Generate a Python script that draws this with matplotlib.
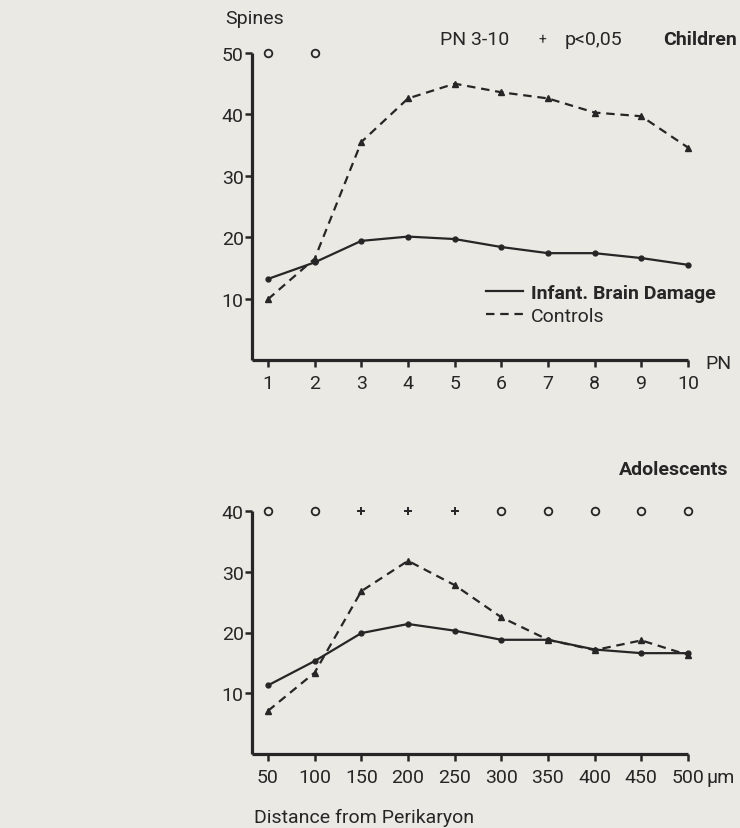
import matplotlib
matplotlib.use("Agg")
import matplotlib.pyplot as plt

plt.rcParams['font.family'] = ['Roboto', 'DejaVu Sans']

# ---------------- data ----------------
pn_days = [1, 2, 3, 4, 5, 6, 7, 8, 9, 10]
children_ibd = [13.2, 15.9, 19.4, 20.1, 19.7, 18.4, 17.4, 17.4, 16.6, 15.5]
children_ctrl = [9.9, 16.5, 35.5, 42.6, 45.0, 43.6, 42.6, 40.3, 39.7, 34.6]
children_sig = ['o', 'o', '', '', '', '', '', '', '', '']

distance_um = [50, 100, 150, 200, 250, 300, 350, 400, 450, 500]
adol_ibd = [11.3, 15.3, 19.9, 21.4, 20.3, 18.8, 18.8, 17.2, 16.6, 16.6]
adol_ctrl = [7.1, 13.4, 26.8, 31.8, 27.8, 22.5, 18.8, 17.1, 18.7, 16.3]
adol_sig = ['o', 'o', '+', '+', '+', 'o', 'o', 'o', 'o', 'o']

top_yticks = [10, 20, 30, 40, 50]
bot_yticks = [10, 20, 30, 40]
legend_labels = ['Infant. Brain Damage', 'Controls']

# ---------------- style ----------------
BG = '#ebe9e4'
INK = '#262626'
W, H = 740, 829
FS = 14

fig = plt.figure(figsize=(W / 100, H / 100), dpi=100, facecolor=BG)


def fx(px):
    return px / W


def fy(py):
    return 1 - py / H


def style_axes(ax):
    ax.set_facecolor(BG)
    for s in ['top', 'right']:
        ax.spines[s].set_visible(False)
    for s in ['left', 'bottom']:
        ax.spines[s].set_linewidth(2.3)
        ax.spines[s].set_color(INK)
        ax.spines[s].set_capstyle('butt')
    ax.tick_params(axis='both', direction='out', width=1.8, length=5,
                   color=INK, labelcolor=INK, labelsize=FS)
    ax.tick_params(axis='y', pad=1)
    ax.tick_params(axis='x', pad=5)


dash = (0, (3.8, 2.6))


def draw_sig(ax, xs, marks, yv):
    for x, s in zip(xs, marks):
        if s == 'o':
            ax.plot(x, yv, marker='o', ms=5.5, mfc='none', mec=INK, mew=1.3, clip_on=False)
        elif s == '+':
            ax.plot(x, yv, marker='+', ms=5.5, mec=INK, mew=1.4, clip_on=False)


# ---------------- top panel (Children) ----------------
ax1 = fig.add_axes([fx(252), fy(361), fx(688) - fx(252), fy(54) - fy(361)])
style_axes(ax1)
ax1.set_xlim(0.657, 10)
ax1.set_ylim(0, 50)
ax1.set_xticks(pn_days)
ax1.set_yticks(top_yticks)
l1, = ax1.plot(pn_days, children_ibd, color=INK, lw=1.6, marker='o', ms=3.5,
               label=legend_labels[0], clip_on=False)
l2, = ax1.plot(pn_days, children_ctrl, color=INK, lw=1.6, ls=dash, marker='^', ms=4.5,
               label=legend_labels[1], clip_on=False)
draw_sig(ax1, pn_days, children_sig, 50)

leg = ax1.legend(handles=[l1, l2], loc='upper left',
                 bbox_to_anchor=(fx(486), fy(285)), bbox_transform=fig.transFigure,
                 frameon=False, fontsize=FS, handlelength=1.9, handletextpad=0.4,
                 labelspacing=0.25, borderpad=0, borderaxespad=0)
for h in leg.legend_handles:
    h.set_marker('')
for t in leg.get_texts():
    t.set_color(INK)
leg.get_texts()[0].set_fontweight('bold')

fig.text(fx(225), fy(19), 'Spines', fontsize=FS, color=INK, va='center', ha='left')
fig.text(fx(440), fy(40), 'PN 3-10', fontsize=FS, color=INK, va='center', ha='left')
fig.text(fx(542), fy(40), '+', fontsize=FS - 4, color=INK, va='center', ha='center')
fig.text(fx(565), fy(40), 'p<0,05', fontsize=FS, color=INK, va='center', ha='left')
fig.text(fx(737), fy(40), 'Children', fontsize=FS, color=INK, va='center', ha='right',
         fontweight='bold')
fig.text(fx(705), fy(364), 'PN', fontsize=FS, color=INK, va='center', ha='left')

# ---------------- bottom panel (Adolescents) ----------------
ax2 = fig.add_axes([fx(252), fy(755), fx(688) - fx(252), fy(512) - fy(755)])
style_axes(ax2)
ax2.set_xlim(32.86, 500)
ax2.set_ylim(0, 40)
ax2.set_xticks(distance_um)
ax2.set_yticks(bot_yticks)
ax2.plot(distance_um, adol_ibd, color=INK, lw=1.6, marker='o', ms=3.5, clip_on=False)
ax2.plot(distance_um, adol_ctrl, color=INK, lw=1.6, ls=dash, marker='^', ms=4.5, clip_on=False)
draw_sig(ax2, distance_um, adol_sig, 40)

fig.text(fx(728), fy(470), 'Adolescents', fontsize=FS, color=INK, va='center', ha='right',
         fontweight='bold')
fig.text(fx(706), fy(778), 'µm', fontsize=FS, color=INK, va='center', ha='left')
fig.text(fx(254), fy(818), 'Distance from Perikaryon', fontsize=FS, color=INK,
         va='center', ha='left')

fig.savefig('out.png', dpi=100, facecolor=BG)
